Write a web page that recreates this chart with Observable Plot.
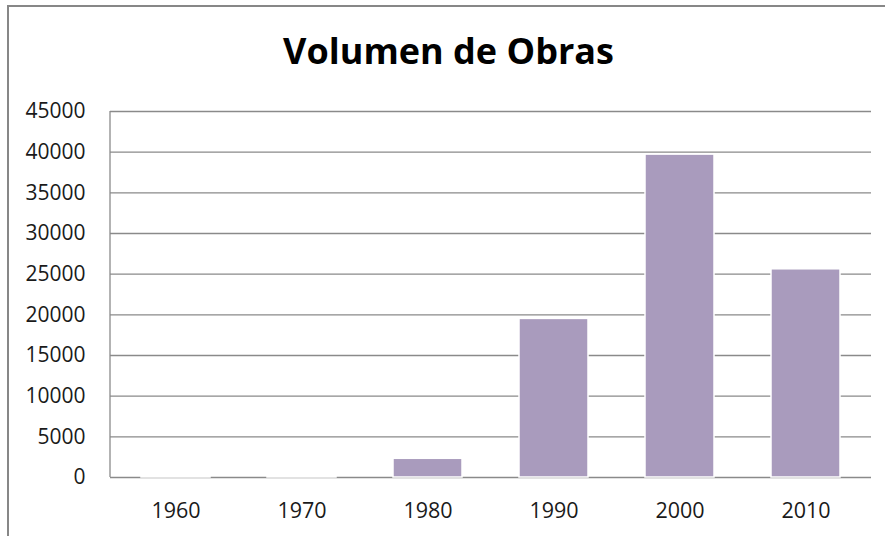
<!DOCTYPE html>
<html>
<head>
<meta charset="utf-8">
<script src="https://cdn.jsdelivr.net/npm/d3@7"></script>
<script src="https://cdn.jsdelivr.net/npm/@observablehq/plot@0.6"></script>
<style>
  html, body { margin: 0; padding: 0; background: #fff; }
  #wrap { position: relative; width: 885px; height: 536px; overflow: hidden; }
  #frame { position: absolute; left: 7px; top: 5px; width: 900px; height: 560px;
           border-left: 2.5px solid #878787; border-top: 2.5px solid #878787; box-sizing: border-box; }
  #chart { position: absolute; left: 0; top: 0; }
</style>
</head>
<body>
<div id="wrap"><div id="frame"></div><div id="chart"></div></div>
<script>
const title = "Volumen de Obras";
const decades = ["1960", "1970", "1980", "1990", "2000", "2010"];
const volumes = [30, 40, 2300, 19500, 39700, 25600];
const yTicks = [0, 5000, 10000, 15000, 20000, 25000, 30000, 35000, 40000, 45000];

const data = decades.map((d, i) => ({decade: d, value: volumes[i]}));
const font = "'Open Sans', sans-serif";

const leftAxisLine = (index, scales, values, dimensions) => {
  const g = d3.create("svg:line")
    .attr("x1", dimensions.marginLeft).attr("x2", dimensions.marginLeft)
    .attr("y1", scales.y(45000)).attr("y2", scales.y(0))
    .attr("stroke", "#8a8a8a").attr("stroke-width", 1.3);
  return g.node();
};

const plot = Plot.plot({
  width: 885,
  height: 536,
  marginLeft: 110,
  marginRight: 14,
  marginTop: 111,
  marginBottom: 59,
  style: {fontFamily: font, fontSize: "21px", color: "#1a1a1a", background: "transparent"},
  x: {domain: decades, paddingInner: 0.45, paddingOuter: 0.225, label: null},
  y: {domain: [0, 45000], label: null},
  marks: [
    Plot.ruleY(yTicks, {stroke: "#8a8a8a", strokeWidth: 1.3, strokeOpacity: 1}),
    leftAxisLine,
    Plot.barY(data, {
      x: "decade", y: "value", fill: "#A99BBD", stroke: "#ffffff", strokeWidth: 1.5,
      style: "filter: drop-shadow(0px 0px 2.5px rgba(0,0,0,0.35))"
    }),
    Plot.axisY({ticks: yTicks, tickSize: 0, tickPadding: 25, tickFormat: d => String(d), fontSize: 21}),
    Plot.axisX({tickSize: 0, tickPadding: 25, fontSize: 21.5}),
    Plot.text([title], {frameAnchor: "top-left", lineAnchor: "top", dx: 448 - 110, dy: -73, text: d => d, fontSize: 36, fontWeight: "bold", fill: "#000", textAnchor: "middle"})
  ]
});
document.getElementById("chart").appendChild(plot);
</script>
</body>
</html>
